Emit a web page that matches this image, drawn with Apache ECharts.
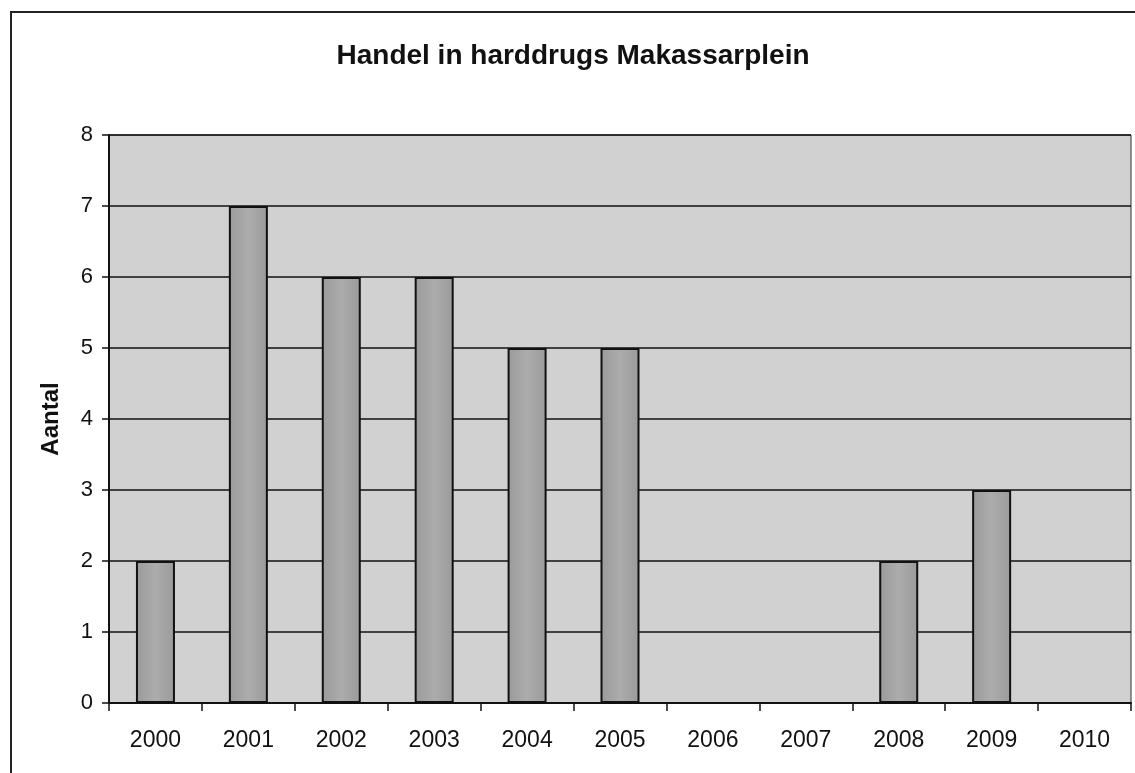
<!DOCTYPE html>
<html>
<head>
<meta charset="utf-8">
<title>Handel in harddrugs Makassarplein</title>
<script src="https://cdn.jsdelivr.net/npm/echarts@6/dist/echarts.min.js"></script>
<style>
  html, body { margin: 0; padding: 0; background: #fff; }
  #chart { width: 1135px; height: 773px; }
</style>
</head>
<body>
<div id="chart"></div>
<script>
// data
const jaren = ['2000', '2001', '2002', '2003', '2004', '2005', '2006', '2007', '2008', '2009', '2010']
const aantal = [2, 7, 6, 6, 5, 5, 0, 0, 2, 3, 0]
const yTicks = [0, 1, 2, 3, 4, 5, 6, 7, 8]

const chart = echarts.init(document.getElementById('chart'))

chart.setOption({
  backgroundColor: '#fff',
  animation: false,
  textStyle: { fontFamily: 'Liberation Sans, Arial, sans-serif' },
  title: {
    text: 'Handel in harddrugs Makassarplein',
    left: 568,
    top: 37,
    textAlign: 'center',
    textStyle: { fontSize: 28, fontWeight: 'bold', color: '#111' }
  },
  // outer frame of the chart (only left and top edges are inside the picture)
  graphic: [
    {
      type: 'rect',
      shape: { x: 11, y: 12, width: 1300, height: 900 },
      style: { fill: 'none', stroke: '#222', lineWidth: 2 },
      silent: true
    }
  ],
  grid: {
    left: 109,
    right: 4,
    top: 135,
    bottom: 70,
    show: true,
    backgroundColor: '#d1d1d1',
    borderColor: '#333',
    borderWidth: 1
  },
  xAxis: {
    type: 'category',
    data: jaren,
    boundaryGap: true,
    axisLine: { lineStyle: { color: '#111', width: 2 } },
    axisTick: { show: true, length: 8, lineStyle: { color: '#111', width: 1.5 } },
    axisLabel: { color: '#111', fontSize: 23, margin: 26 }
  },
  yAxis: {
    type: 'value',
    min: yTicks[0],
    max: yTicks[yTicks.length - 1],
    interval: 1,
    name: 'Aantal',
    nameLocation: 'middle',
    nameGap: 46,
    nameRotate: 90,
    nameTextStyle: { fontSize: 24, fontWeight: 'bold', color: '#111' },
    axisLine: { show: true, lineStyle: { color: '#111', width: 2 } },
    axisTick: { show: true, length: 7, lineStyle: { color: '#111', width: 1.5 } },
    axisLabel: { color: '#111', fontSize: 22, margin: 16 },
    splitLine: { lineStyle: { color: '#111', width: 1.5 } }
  },
  series: [
    {
      name: 'Aantal',
      type: 'bar',
      data: aantal,
      barWidth: 39,
      itemStyle: {
        color: {
          type: 'linear',
          x: 0, y: 0, x2: 1, y2: 0,
          colorStops: [
            { offset: 0, color: '#9a9a9a' },
            { offset: 0.5, color: '#acacac' },
            { offset: 1, color: '#9a9a9a' }
          ]
        },
        borderColor: '#111',
        borderWidth: 2
      }
    }
  ]
})
</script>
</body>
</html>
